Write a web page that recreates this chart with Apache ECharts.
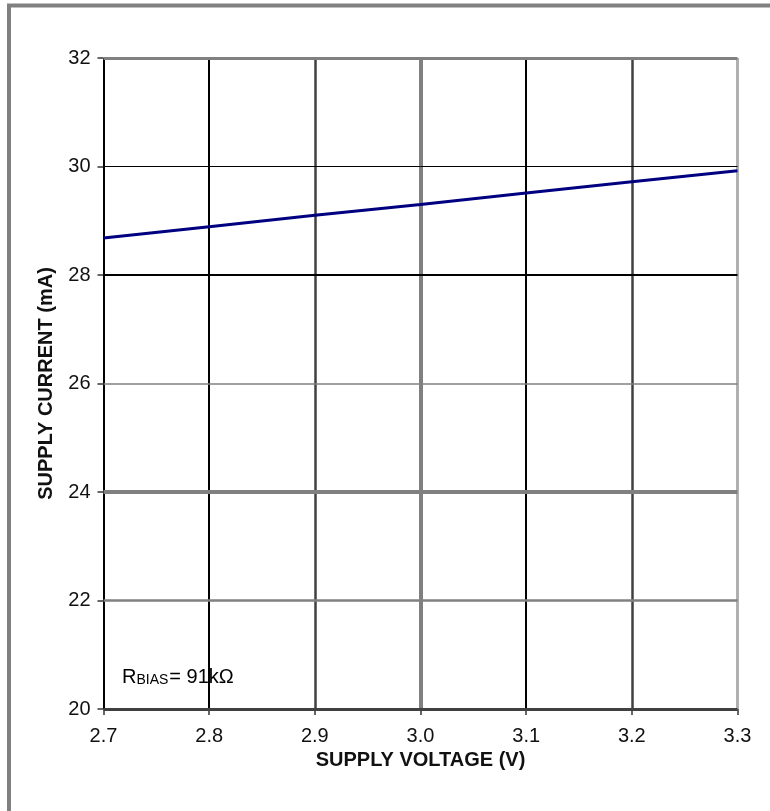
<!DOCTYPE html>
<html>
<head>
<meta charset="utf-8">
<script src="https://cdn.jsdelivr.net/npm/echarts@6/dist/echarts.min.js"></script>
<style>
html,body{margin:0;padding:0;background:#fff;}
#chart{width:770px;height:811px;}
</style>
</head>
<body>
<div id="chart"></div>
<script>
// ---- data ----
var voltage = [2.7, 2.8, 2.9, 3.0, 3.1, 3.2, 3.3];
var current = [28.68, 28.89, 29.10, 29.30, 29.51, 29.72, 29.92];
var xTicks = [2.7, 2.8, 2.9, 3.0, 3.1, 3.2, 3.3];
var yTicks = [20, 22, 24, 26, 28, 30, 32];

// ---- gridline styles (scanned look) ----
var vGridStyle = [
  {color:'#000', width:2},
  {color:'#000', width:2},
  {color:'#404040', width:2.5},
  {color:'#808080', width:4},
  {color:'#000', width:2},
  {color:'#404040', width:2.5},
  {color:'#b0b0b0', width:3}
];
var hGridStyle = [
  {color:'#404040', width:3},
  {color:'#808080', width:2.5},
  {color:'#808080', width:4},
  {color:'#808080', width:1.5},
  {color:'#000', width:2},
  {color:'#000', width:1},
  {color:'#808080', width:3}
];

var FONT = '"Liberation Sans", Arial, sans-serif';

var markData = [];
xTicks.forEach(function(v, i){
  markData.push({xAxis: v, lineStyle: {color: vGridStyle[i].color, width: vGridStyle[i].width, type:'solid'}});
});
yTicks.forEach(function(v, i){
  markData.push({yAxis: v, lineStyle: {color: hGridStyle[i].color, width: hGridStyle[i].width, type:'solid'}});
});

var chart = echarts.init(document.getElementById('chart'), null, {renderer:'canvas'});
chart.setOption({
  animation: false,
  backgroundColor: '#fff',
  grid: {left: 103.5, right: 32.5, top: 58, bottom: 102, containLabel: false},
  xAxis: {
    type: 'value', min: 2.7, max: 3.3, interval: 0.1,
    name: 'SUPPLY VOLTAGE (V)', nameLocation: 'middle', nameGap: 41,
    nameTextStyle: {fontFamily: FONT, fontSize: 20, fontWeight: 'bold', color: '#111'},
    axisLine: {show: false},
    axisTick: {show: true, inside: false, length: 6, lineStyle: {color: '#666', width: 2}},
    axisLabel: {margin: 17, fontFamily: FONT, fontSize: 20, color: '#111',
      formatter: function(v){ return v.toFixed(1); }},
    splitLine: {show: false}
  },
  yAxis: {
    type: 'value', min: 20, max: 32, interval: 2,
    name: 'SUPPLY CURRENT (mA)', nameLocation: 'middle', nameGap: 47, nameRotate: 90,
    nameTextStyle: {fontFamily: FONT, fontSize: 20, fontWeight: 'bold', color: '#111'},
    axisLine: {show: false},
    axisTick: {show: true, inside: false, length: 6, lineStyle: {color: '#666', width: 2}},
    axisLabel: {margin: 13, fontFamily: FONT, fontSize: 20, color: '#111'},
    splitLine: {show: false}
  },
  graphic: [
    {type: 'line', shape: {x1: 7, y1: 5.5, x2: 770, y2: 5.5}, style: {stroke: '#808080', lineWidth: 4}, z: 100},
    {type: 'line', shape: {x1: 9, y1: 4, x2: 9, y2: 811}, style: {stroke: '#808080', lineWidth: 4}, z: 100},
    {type: 'text', left: 122, top: 667, z: 100,
      style: {
        text: '{r|R}{s|BIAS}{r|= 91kΩ}',
        rich: {
          r: {fontFamily: FONT, fontSize: 20, color: '#222', verticalAlign: 'bottom'},
          s: {fontFamily: FONT, fontSize: 14, color: '#222', verticalAlign: 'bottom', padding: [0, 1, 0, 0]}
        }
      }
    }
  ],
  series: [
    {
      type: 'line',
      data: voltage.map(function(v, i){ return [v, current[i]]; }),
      showSymbol: false, symbol: 'none',
      lineStyle: {color: '#000080', width: 3},
      z: 5,
      markLine: {
        silent: true, symbol: ['none', 'none'], label: {show: false},
        animation: false, z: 1,
        data: markData
      }
    }
  ]
});
</script>
</body>
</html>
